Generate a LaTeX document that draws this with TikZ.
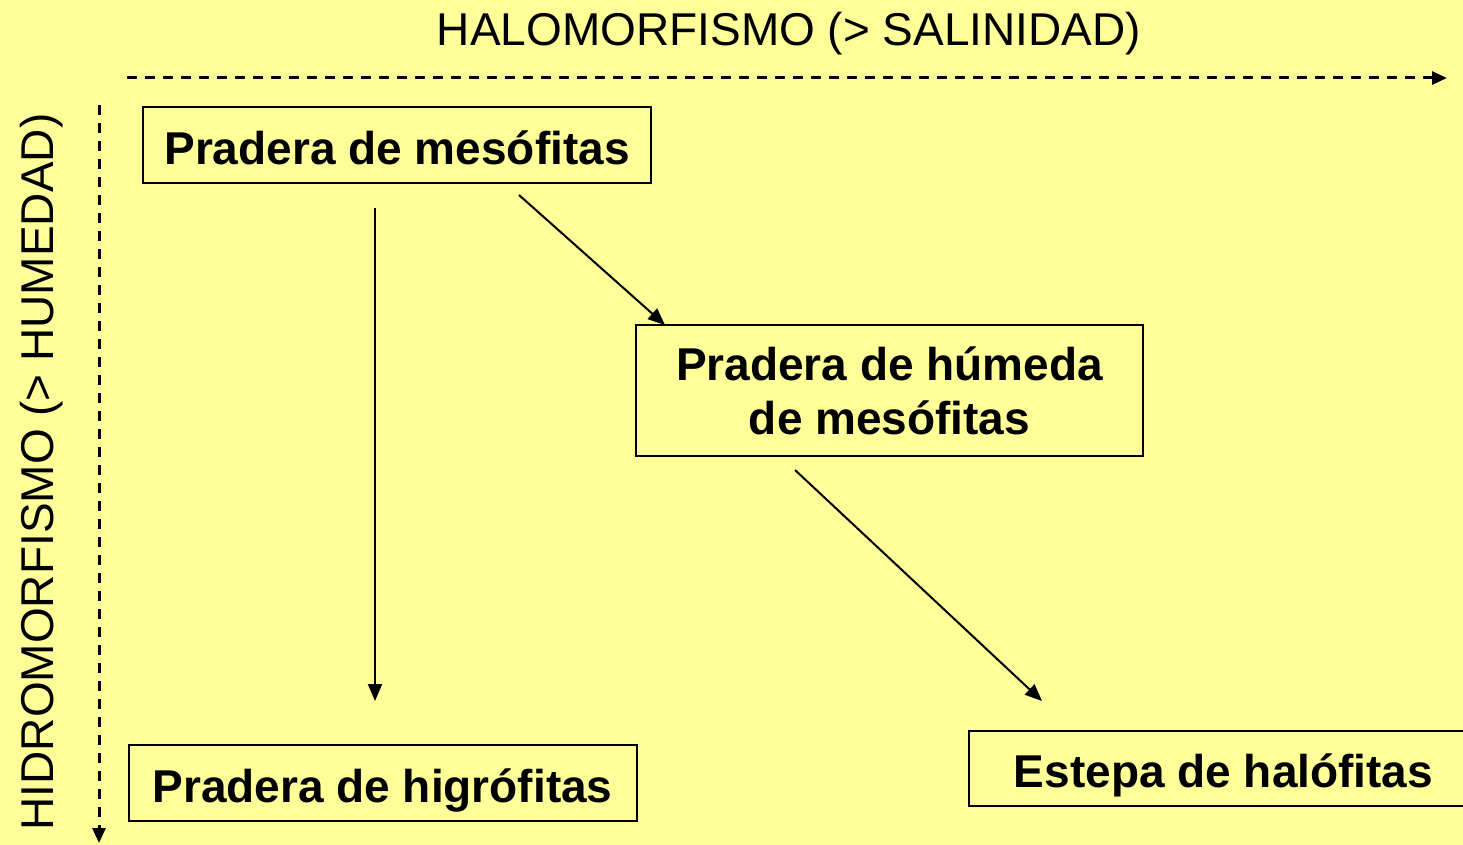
\documentclass[tikz,border=0pt]{standalone}
\usepackage{fontspec}
\setmainfont{Liberation Sans}
\usetikzlibrary{arrows.meta}
\definecolor{bgyellow}{HTML}{FFFF99}
\begin{document}
\begin{tikzpicture}[x=1pt,y=-1pt,
  box/.style={draw=black,line width=2pt,fill=bgyellow,inner sep=0pt,
    minimum width=508pt,minimum height=76pt,align=center,
    font=\fontsize{46}{54}\selectfont\bfseries},
  onebox/.style={box,text height=38pt,text depth=0pt},
  axislabel/.style={inner sep=0pt,font=\fontsize{46}{54}\selectfont},
  axis/.style={line width=3pt,dash pattern=on 10pt off 8pt,-{Triangle[length=15pt,width=13pt]}},
  conn/.style={line width=2pt,-{Triangle[length=17pt,width=14pt]}}]
\fill[bgyellow] (0,0) rectangle (1463,845);
\useasboundingbox (0,0) rectangle (1463,845);
\clip (0,0) rectangle (1463,845);
% axis labels
\node[axislabel] (hal) at (789,34) {HALOMORFISMO (> SALINIDAD)};
\node[axislabel,rotate=90] (hid) at (42,472) {HIDROMORFISMO (> HUMEDAD)};
% axes
\coordinate (hx0) at (127,78);
\coordinate (hx1) at (1447,78);
\coordinate (vy0) at (99,105);
\coordinate (vy1) at (99,843);
\draw[axis] (hx0) -- (hx1);
\draw[axis] (vy0) -- (vy1);
% boxes
\node[onebox] (mes) at (397,145.5) {Pradera de mesófitas};
\node[box,minimum width=507pt,minimum height=131pt] (hum) at (889.5,390.5) {Pradera de húmeda\\de mesófitas};
\node[onebox] (hig) at (382.5,783) {Pradera de higrófitas};
\node[onebox,minimum width=509pt,minimum height=75pt] (est) at (1223.5,768.5) {Estepa de halófitas};
% connector end points
\coordinate (a0) at (375,208);
\coordinate (a1) at (375,701);
\coordinate (b0) at (519,195);
\coordinate (b1) at (665,325);
\coordinate (c0) at (795,470);
\coordinate (c1) at (1042,701);
\draw[conn] (a0) -- (a1);
\draw[conn] (b0) -- (b1);
\draw[conn] (c0) -- (c1);
\end{tikzpicture}
\end{document}
